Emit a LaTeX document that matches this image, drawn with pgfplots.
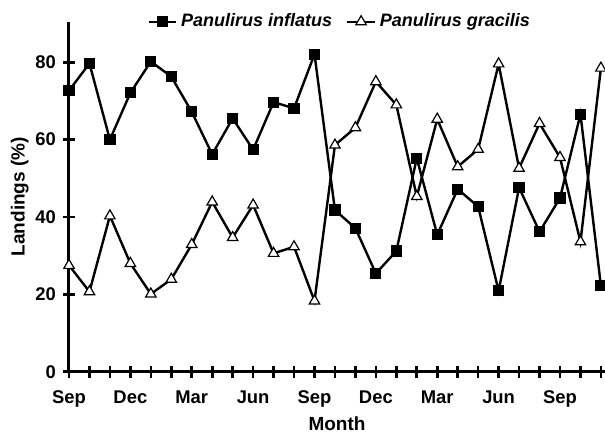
\documentclass[border=0pt]{standalone}
\usepackage{pgfplots}
\pgfplotsset{compat=1.18}
\usepackage{fontspec}
\setmainfont{Liberation Sans}
\begin{document}
\begin{tikzpicture}
\begin{axis}[
  scale only axis, width=268pt, height=175pt,
  xmin=0, xmax=26.2, ymin=0, ymax=90.5,
  axis lines=left, axis line style={-, line width=1.5pt},
  xtick={0,...,26}, ytick={0,20,40,60,80},
  xticklabels={Sep,,,Dec,,,Mar,,,Jun,,,Sep,,,Dec,,,Mar,,,Jun,,,Sep,,},
  tick align=center, major tick length=6pt, tick style={line width=1.3pt, black},
  font=\bfseries\fontsize{9}{10}\selectfont,
  ticklabel style={font=\bfseries\fontsize{9.2}{10}\selectfont},
  xticklabel style={yshift=-3pt},
  /pgf/number format/assume math mode=true,
  xlabel={Month}, ylabel={Landings (\%)},
  xlabel style={font=\bfseries\fontsize{9.5}{10}\selectfont, yshift=2pt},
  ylabel style={font=\bfseries\fontsize{9.5}{10}\selectfont, yshift=-3.5pt},
  legend style={at={(0.507,1)}, anchor=center, draw=none, fill=none,
    legend columns=2, font=\bfseries\itshape\fontsize{9}{10}\selectfont,
    /tikz/every even column/.append style={column sep=5pt}},
  legend image code/.code={\draw[mark repeat=2,mark phase=2] plot coordinates {(0cm,0cm)(0.24cm,0cm)(0.48cm,0cm)};},
  clip=false,
]
\addplot[black, line width=1.2pt, mark=square*, mark size=2.2pt, mark options={solid, fill=black}] coordinates {
(0,72.7)(1,79.7)(2,60.0)(3,72.1)(4,80.2)(5,76.3)(6,67.2)(7,56.2)(8,65.5)(9,57.4)(10,69.7)(11,68.1)(12,82.1)(13,41.8)(14,37.1)(15,25.4)(16,31.2)(17,55.2)(18,35.4)(19,47.2)(20,42.7)(21,20.9)(22,47.6)(23,36.2)(24,44.9)(25,66.6)(26,22.2)};
\addlegendentry{Panulirus inflatus}
\addplot[black, line width=1.2pt, mark=triangle*, mark size=3pt, mark options={solid, fill=white, line width=0.6pt}] coordinates {
(0,27.5)(1,20.7)(2,40.3)(3,28.0)(4,20.1)(5,23.9)(6,32.9)(7,43.9)(8,34.7)(9,43.1)(10,30.6)(11,32.3)(12,18.3)(13,58.6)(14,63.1)(15,75.0)(16,69.0)(17,45.3)(18,65.3)(19,53.0)(20,57.5)(21,79.6)(22,52.6)(23,64.2)(24,55.4)(25,33.6)(26,78.5)};
\addlegendentry{Panulirus gracilis}
\coordinate (ll) at (rel axis cs:0,0);
\coordinate (ur) at (rel axis cs:1,1);
\end{axis}
\pgfresetboundingbox
\path ([shift={(-34.5pt,-30.6pt)}]ll) rectangle ([shift={(0pt,10.85pt)}]ur);
\end{tikzpicture}
\end{document}
